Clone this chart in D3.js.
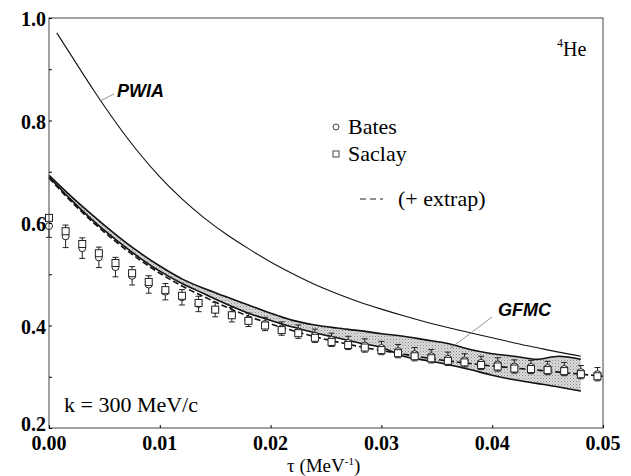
<!DOCTYPE html>
<html>
<head>
<meta charset="utf-8">
<script src="https://cdn.jsdelivr.net/npm/d3@7"></script>
<style>
  body { margin: 0; background: #fff; }
  svg text { font-family: "Liberation Serif", "DejaVu Serif", serif; }
</style>
</head>
<body>
<div id="chart"></div>
<script>
// tau grid for the theory curves
const tauGrid = [0.000, 0.002, 0.004, 0.006, 0.008, 0.010, 0.012, 0.014, 0.016, 0.018, 0.020, 0.022,
    0.024, 0.026, 0.028, 0.030, 0.032, 0.034, 0.036, 0.038, 0.040, 0.042, 0.044, 0.046, 0.048];
const gfmcUpper = [0.693, 0.652, 0.614, 0.578, 0.545, 0.516, 0.491, 0.472, 0.456, 0.440, 0.424, 0.410,
    0.401, 0.395, 0.390, 0.384, 0.379, 0.372, 0.365, 0.353, 0.345, 0.340, 0.334, 0.340, 0.334];
const gfmcLower = [0.690, 0.645, 0.604, 0.568, 0.535, 0.506, 0.482, 0.462, 0.442, 0.424, 0.410, 0.397,
    0.386, 0.376, 0.366, 0.357, 0.340, 0.332, 0.324, 0.314, 0.303, 0.294, 0.287, 0.280, 0.272];

const pwiaTau = [0.0007, 0.002, 0.004, 0.006, 0.008, 0.010, 0.012, 0.014, 0.016, 0.018, 0.020, 0.022,
    0.024, 0.026, 0.028, 0.030, 0.032, 0.034, 0.036, 0.038, 0.040, 0.042, 0.044, 0.046, 0.048];
const pwiaVals = [0.971, 0.927, 0.860, 0.797, 0.740, 0.690, 0.647, 0.610, 0.578, 0.550, 0.524, 0.501,
    0.480, 0.462, 0.446, 0.432, 0.419, 0.407, 0.396, 0.386, 0.376, 0.366, 0.357, 0.348, 0.340];

// experiment + extrapolation (dashed)
const extrapTau = [0.000, 0.002, 0.004, 0.006, 0.008, 0.010, 0.012, 0.014, 0.016, 0.018, 0.020, 0.022,
    0.024, 0.026, 0.028, 0.030, 0.032, 0.034, 0.036, 0.038, 0.040, 0.042, 0.044, 0.046, 0.048, 0.050];
const extrapVals = [0.688, 0.642, 0.601, 0.564, 0.531, 0.502, 0.477, 0.456, 0.436, 0.418, 0.403, 0.390,
    0.378, 0.368, 0.359, 0.351, 0.344, 0.337, 0.331, 0.326, 0.321, 0.317, 0.313, 0.309, 0.305, 0.301];

// data points
const dataTau = [0.0000, 0.0015, 0.0030, 0.0045, 0.0060, 0.0075, 0.0090, 0.0105, 0.0120, 0.0135, 0.0150,
    0.0165, 0.0180, 0.0195, 0.0210, 0.0225, 0.0240, 0.0255, 0.0270, 0.0285, 0.0300, 0.0315, 0.0330,
    0.0345, 0.0360, 0.0375, 0.0390, 0.0405, 0.0420, 0.0435, 0.0450, 0.0465, 0.0480, 0.0495];
const saclay = [0.610, 0.584, 0.559, 0.541, 0.522, 0.502, 0.485, 0.469, 0.458, 0.444, 0.431,
    0.420, 0.409, 0.400, 0.391, 0.385, 0.376, 0.368, 0.362, 0.357, 0.352, 0.346, 0.340,
    0.336, 0.331, 0.328, 0.323, 0.320, 0.316, 0.315, 0.313, 0.311, 0.305, 0.301];
const bates = [0.594, 0.574, 0.551, 0.533, 0.514, 0.497, 0.480, 0.466, 0.455, 0.442, 0.431,
    0.421, 0.411, 0.403, 0.394, 0.388, 0.380, 0.372, 0.366, 0.361, 0.356, 0.350, 0.344,
    0.340, 0.335, 0.332, 0.327, 0.324, 0.320, 0.319, 0.317, 0.315, 0.309, 0.305];
const batesErr = [0.022, 0.022, 0.020, 0.020, 0.019, 0.018, 0.017, 0.016, 0.015, 0.015, 0.014,
    0.014, 0.013, 0.013, 0.013, 0.013, 0.013, 0.013, 0.013, 0.013, 0.013, 0.013, 0.013,
    0.013, 0.013, 0.013, 0.013, 0.013, 0.013, 0.013, 0.013, 0.013, 0.013, 0.013];

const xTicks = [0.00, 0.01, 0.02, 0.03, 0.04, 0.05];
const yTicks = [0.2, 0.4, 0.6, 0.8, 1.0];

const width = 631, height = 476;
const svg = d3.select("#chart").append("svg").attr("width", width).attr("height", height);

const x = d3.scaleLinear().domain([0, 0.05]).range([49, 603]);
const y = d3.scaleLinear().domain([0.2, 1.0]).range([428, 18]);

// stipple for the GFMC band
const pat = svg.append("defs").append("pattern").attr("id", "stip")
    .attr("width", 3).attr("height", 3).attr("patternUnits", "userSpaceOnUse");
pat.append("rect").attr("width", 3).attr("height", 3).attr("fill", "#dadada");
pat.append("rect").attr("width", 1).attr("height", 1).attr("fill", "#8a8a8a");
pat.append("rect").attr("x", 1.5).attr("y", 1.5).attr("width", 1).attr("height", 1).attr("fill", "#a8a8a8");

// GFMC band
const band = tauGrid.map((t, i) => ({ t, lo: gfmcLower[i], hi: gfmcUpper[i] }));
svg.append("path").datum(band)
    .attr("d", d3.area().x(d => x(d.t)).y0(d => y(d.lo)).y1(d => y(d.hi)).curve(d3.curveMonotoneX))
    .attr("fill", "url(#stip)");
const edge = key => d3.line().x(d => x(d.t)).y(d => y(d[key])).curve(d3.curveMonotoneX);
svg.append("path").datum(band).attr("d", edge("hi")).attr("fill", "none").attr("stroke", "#111").attr("stroke-width", 1.6);
svg.append("path").datum(band).attr("d", edge("lo")).attr("fill", "none").attr("stroke", "#111").attr("stroke-width", 1.6);

// dashed experiment + extrap
svg.append("path").datum(extrapTau.map((t, i) => [t, extrapVals[i]]))
    .attr("d", d3.line().x(d => x(d[0])).y(d => y(d[1])).curve(d3.curveMonotoneX))
    .attr("fill", "none").attr("stroke", "#111").attr("stroke-width", 1.6).attr("stroke-dasharray", "6,3");

// PWIA
svg.append("path").datum(pwiaTau.map((t, i) => [t, pwiaVals[i]]))
    .attr("d", d3.line().x(d => x(d[0])).y(d => y(d[1])).curve(d3.curveMonotoneX))
    .attr("fill", "none").attr("stroke", "#111").attr("stroke-width", 1.1);

// data points
const pts = dataTau.map((t, i) => ({ t, s: saclay[i], b: bates[i], e: batesErr[i] }));
const g = svg.append("g").selectAll("g").data(pts).enter().append("g");
g.append("line").attr("x1", d => x(d.t)).attr("x2", d => x(d.t))
    .attr("y1", d => y(d.b - d.e)).attr("y2", d => y(d.b + d.e)).attr("stroke", "#222").attr("stroke-width", 1);
g.append("line").attr("x1", d => x(d.t) - 3).attr("x2", d => x(d.t) + 3)
    .attr("y1", d => y(d.b - d.e)).attr("y2", d => y(d.b - d.e)).attr("stroke", "#222").attr("stroke-width", 1);
g.append("line").attr("x1", d => x(d.t) - 3).attr("x2", d => x(d.t) + 3)
    .attr("y1", d => y(d.b + d.e)).attr("y2", d => y(d.b + d.e)).attr("stroke", "#222").attr("stroke-width", 1);
g.append("circle").attr("cx", d => x(d.t)).attr("cy", d => y(d.b)).attr("r", 3.5)
    .attr("fill", "#fff").attr("stroke", "#222").attr("stroke-width", 1);
g.append("rect").attr("x", d => x(d.t) - 3.5).attr("y", d => y(d.s) - 3.5).attr("width", 7).attr("height", 7)
    .attr("fill", "#fff").attr("stroke", "#222").attr("stroke-width", 1);

// frame + ticks
svg.append("rect").attr("x", 49).attr("y", 18).attr("width", 554).attr("height", 410)
    .attr("fill", "none").attr("stroke", "#444").attr("stroke-width", 1);
svg.append("g").attr("transform", "translate(0,428)")
    .call(d3.axisBottom(x).tickValues(d3.range(0, 0.0501, 0.01)).tickSize(-3).tickFormat(""))
    .call(s => s.select(".domain").remove());
svg.append("g").attr("transform", "translate(49,0)")
    .call(d3.axisLeft(y).tickValues(d3.range(0.2, 1.001, 0.1)).tickSize(-3).tickFormat(""))
    .call(s => s.select(".domain").remove());

svg.selectAll("text.xt").data(xTicks).enter().append("text").attr("class", "xt")
    .attr("x", d => x(d)).attr("y", 450).attr("text-anchor", "middle")
    .attr("font-size", 20).attr("font-weight", "bold").text(d => d.toFixed(2));
svg.selectAll("text.yt").data(yTicks).enter().append("text").attr("class", "yt")
    .attr("x", 46).attr("y", d => d === 0.2 ? y(d) + 3 : y(d) + 8).attr("text-anchor", "end")
    .attr("font-size", 20).attr("font-weight", "bold").text(d => d.toFixed(1));

// axis title
const xt = svg.append("text").attr("x", 287).attr("y", 472).attr("font-size", 19);
xt.append("tspan").text("τ (MeV");
xt.append("tspan").attr("dy", -7).attr("font-size", 11).text("-1");
xt.append("tspan").attr("dy", 7).text(")");

// labels
const sans = "'Liberation Sans', Arial, sans-serif";
svg.append("text").attr("x", 117).attr("y", 97).style("font-family", sans).attr("font-size", 18)
    .attr("font-weight", "bold").attr("font-style", "italic").text("PWIA");
svg.append("line").attr("x1", 100).attr("y1", 101).attr("x2", 114).attr("y2", 94)
    .attr("stroke", "#777").attr("stroke-width", 0.8);
svg.append("text").attr("x", 498).attr("y", 316).style("font-family", sans).attr("font-size", 18)
    .attr("font-weight", "bold").attr("font-style", "italic").text("GFMC");
svg.append("line").attr("x1", 492).attr("y1", 317).attr("x2", 451).attr("y2", 348)
    .attr("stroke", "#777").attr("stroke-width", 0.8);

const he = svg.append("text").attr("x", 557).attr("y", 56).attr("font-size", 20);
he.append("tspan").attr("dy", -9).attr("font-size", 12).text("4");
he.append("tspan").attr("dy", 9).text("He");

svg.append("text").attr("x", 64).attr("y", 412).attr("font-size", 22).text("k = 300 MeV/c");

// legend
svg.append("circle").attr("cx", 336).attr("cy", 127).attr("r", 3).attr("fill", "#fff").attr("stroke", "#444");
svg.append("text").attr("x", 348).attr("y", 134).attr("font-size", 22).text("Bates");
svg.append("rect").attr("x", 333).attr("y", 151).attr("width", 6).attr("height", 6).attr("fill", "#fff").attr("stroke", "#444");
svg.append("text").attr("x", 348).attr("y", 161).attr("font-size", 22).text("Saclay");
svg.append("line").attr("x1", 360).attr("x2", 383).attr("y1", 199).attr("y2", 199)
    .attr("stroke", "#222").attr("stroke-dasharray", "6,4");
svg.append("text").attr("x", 398).attr("y", 206).attr("font-size", 22).text("(+ extrap)");
</script>
</body>
</html>
